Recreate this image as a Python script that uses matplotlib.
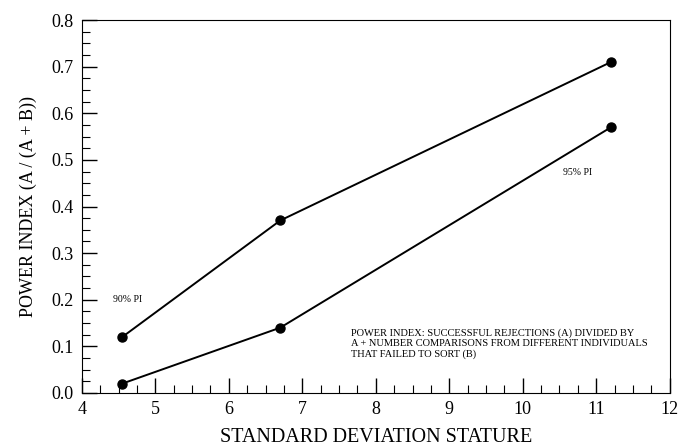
import matplotlib
matplotlib.use("Agg")
import matplotlib.pyplot as plt
from matplotlib.ticker import MultipleLocator

plt.rcParams["font.family"] = ["Liberation Serif", "DejaVu Serif"]

sd_stature = [4.55, 6.7, 11.2]
pi_90 = [0.12, 0.37, 0.71]
pi_95 = [0.02, 0.14, 0.57]
x_ticks = [4, 5, 6, 7, 8, 9, 10, 11, 12]
y_ticks = [0.0, 0.1, 0.2, 0.3, 0.4, 0.5, 0.6, 0.7, 0.8]

fig = plt.figure(figsize=(6.82, 4.47), dpi=100)
ax = fig.add_axes([0.120, 0.121, 0.862, 0.834])

ax.plot(sd_stature, pi_90, color="black", lw=1.4, marker="o", ms=6.5)
ax.plot(sd_stature, pi_95, color="black", lw=1.4, marker="o", ms=6.5)

ax.text(4.43, 0.2, "90% PI", fontsize=7, va="center")
ax.text(10.55, 0.474, "95% PI", fontsize=7, va="center")
ax.text(7.66, 0.139,
        "POWER INDEX: SUCCESSFUL REJECTIONS (A) DIVIDED BY\n"
        "A + NUMBER COMPARISONS FROM DIFFERENT INDIVIDUALS\n"
        "THAT FAILED TO SORT (B)",
        fontsize=7.5, va="top", linespacing=1.15)

ax.set_xlim(4, 12)
ax.set_ylim(0, 0.8)
ax.set_xticks(x_ticks)
ax.set_yticks(y_ticks)
ax.set_yticklabels([f"{v:.1f}" for v in y_ticks])
ax.xaxis.set_minor_locator(MultipleLocator(0.25))
ax.yaxis.set_minor_locator(MultipleLocator(0.025))
ax.tick_params(which="both", direction="in", top=False, right=False, labelsize=13)
ax.tick_params(which="major", length=11, width=1)
ax.tick_params(which="minor", length=6, width=0.8)
ax.tick_params(axis="x", pad=6)
ax.tick_params(axis="y", pad=6)

ax.set_xlabel("STANDARD DEVIATION STATURE", fontsize=14.5, labelpad=7)
ax.set_ylabel("POWER INDEX (A / (A + B))", fontsize=13, labelpad=10)

fig.savefig("out.png", dpi=100)
